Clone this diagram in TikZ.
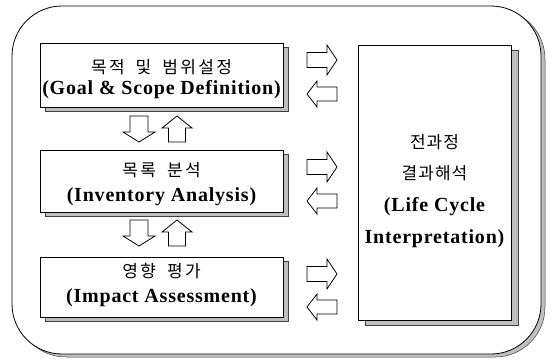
\documentclass[tikz,border=0pt]{standalone}
\usepackage{fontspec}
\setmainfont{Liberation Serif}
\newfontfamily\kr[LetterSpace=14]{Noto Sans CJK KR}
\newfontfamily\krr[LetterSpace=6]{Noto Sans CJK KR}
\newfontfamily\en[LetterSpace=4]{Liberation Serif}
\newcommand\krgap{\hspace{11pt}}
\usetikzlibrary{shadows}
\begin{document}
\begin{tikzpicture}[x=1pt,y=-1pt,
  box/.style={draw, fill=white, line width=0.8pt, inner sep=0pt},
  blk/.style={draw, fill=white, line width=0.8pt, line join=miter},
  kt/.style={font=\kr\fontsize{17}{20}\selectfont, inner sep=0pt},
  kr/.style={font=\krr\fontsize{17}{20}\selectfont, inner sep=0pt},
  et/.style={font=\en\bfseries\fontsize{20}{24}\selectfont, inner sep=0pt},
  rarrow/.pic={\draw[blk] (-15,-7.5) -- (5,-7.5) -- (5,-15) -- (15,0) -- (5,15) -- (5,7.5) -- (-15,7.5) -- cycle;},
  larrow/.pic={\draw[blk] (15,-7) -- (-5,-7) -- (-5,-13) -- (-15,0) -- (-5,13) -- (-5,7) -- (15,7) -- cycle;},
  darrow/.pic={\draw[blk] (-9,-13) -- (9,-13) -- (9,3) -- (16,3) -- (0,13) -- (-16,3) -- (-9,3) -- cycle;},
  uarrow/.pic={\draw[blk] (-8.5,13) -- (8.5,13) -- (8.5,-1) -- (15,-1) -- (0,-13) -- (-15,-1) -- (-8.5,-1) -- cycle;}
]
\useasboundingbox (0,0) rectangle (553,360);
\fill[white] (0,0) rectangle (553,360);

% outer frame
\node[box, rounded corners=50pt, minimum width=529pt, minimum height=348pt,
      drop shadow={shadow xshift=4pt, shadow yshift=-3pt, fill=black!25, draw=black!75, line width=0.5pt, opacity=1}]
      (outer) at (276.5,180) {};

% left boxes
\node[box, minimum width=243pt, minimum height=64pt, anchor=north west,
      drop shadow={shadow xshift=5pt, shadow yshift=-4pt, fill=black!25, draw=black!75, line width=0.5pt, opacity=1}]
      (b1) at (40,43) {};
\node[box, minimum width=243pt, minimum height=62pt, anchor=north west,
      drop shadow={shadow xshift=5pt, shadow yshift=-4pt, fill=black!25, draw=black!75, line width=0.5pt, opacity=1}]
      (b2) at (40,150) {};
\node[box, minimum width=243pt, minimum height=60pt, anchor=north west,
      drop shadow={shadow xshift=5pt, shadow yshift=-4pt, fill=black!25, draw=black!75, line width=0.5pt, opacity=1}]
      (b3) at (40,257) {};

% right box
\node[box, minimum width=153pt, minimum height=275pt, anchor=north west,
      drop shadow={shadow xshift=7pt, shadow yshift=-5pt, fill=black!25, draw=black!75, line width=0.5pt, opacity=1}]
      (b4) at (358,45) {};

% texts
\node[kt] (t1a) at (161.5,67) {목적\krgap 및\krgap 범위설정};
\node[et] (t1b) at (161.5,90) {(Goal \& Scope Definition)};
\node[kt] (t2a) at (161.5,170) {목록\krgap 분석};
\node[et] (t2b) at (161.5,197) {(Inventory Analysis)};
\node[kt] (t3a) at (161.5,271) {영향\krgap 평가};
\node[et] (t3b) at (161.5,298) {(Impact Assessment)};
\node[kr] (t4a) at (434.5,142) {전과정};
\node[kr] (t4b) at (434.5,173) {결과해석};
\node[et] (t4c) at (434.5,207) {(Life Cycle};
\node[et] (t4d) at (434.5,239) {Interpretation)};

% vertical arrows
\pic at (139,129) {darrow};
\pic at (177,129) {uarrow};
\pic at (139,233) {darrow};
\pic at (177,233) {uarrow};

% horizontal arrows
\pic at (322,60) {rarrow};
\pic at (322,94) {larrow};
\pic at (322,167) {rarrow};
\pic at (322,201) {larrow};
\pic at (322,274) {rarrow};
\pic at (322,307) {larrow};
\end{tikzpicture}
\end{document}
